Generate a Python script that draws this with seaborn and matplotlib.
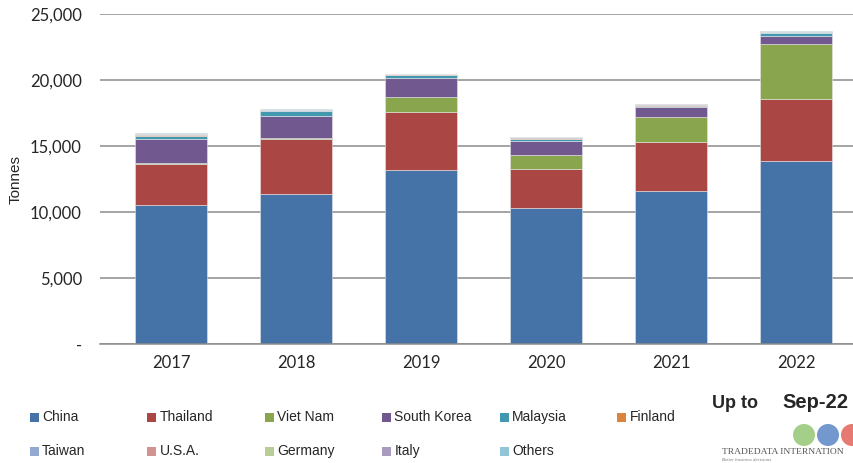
import matplotlib
matplotlib.use('Agg')
import matplotlib.pyplot as plt
import matplotlib.ticker as mticker
from matplotlib.patches import Rectangle, Ellipse
import numpy as np
import seaborn as sns

sns.set_theme(style='white')
plt.rcParams['font.family'] = ['Liberation Sans', 'DejaVu Sans']

# data (tonnes)
years = ['2017', '2018', '2019', '2020', '2021', '2022']
china = [10500, 11360, 13180, 10300, 11570, 13840]
thailand = [3100, 4170, 4370, 2930, 3760, 4740]
viet_nam = [80, 100, 1140, 1110, 1890, 4120]
south_korea = [1850, 1650, 1440, 1060, 710, 650]
malaysia = [250, 350, 230, 130, 120, 180]
finland = [20, 20, 20, 90, 20, 20]
taiwan = [60, 40, 30, 30, 40, 60]
usa = [30, 20, 20, 20, 20, 20]
germany = [20, 10, 10, 10, 10, 20]
italy = [20, 10, 10, 10, 10, 10]
others = [70, 40, 30, 10, 30, 40]

countries = ['China', 'Thailand', 'Viet Nam', 'South Korea', 'Malaysia', 'Finland',
             'Taiwan', 'U.S.A.', 'Germany', 'Italy', 'Others']
series = [china, thailand, viet_nam, south_korea, malaysia, finland,
          taiwan, usa, germany, italy, others]
colors = ['#4572A7', '#AA4643', '#89A54E', '#71588F', '#4198AF', '#DB843D',
          '#93A9CF', '#D19392', '#B9CD96', '#A99BBD', '#92C5D8']

fig = plt.figure(figsize=(8.54, 4.63), dpi=100)
ax = fig.add_axes([100 / 854, (463 - 344) / 463, 754 / 854, 330 / 463])

bottom = np.zeros(len(years))
for vals, col in zip(series, colors):
    sns.barplot(x=years, y=vals, bottom=bottom, color=col, width=0.576,
                saturation=1, edgecolor='#e6e6e6', linewidth=0.4, ax=ax)
    bottom += np.array(vals)

ax.set_xlim(-0.568, 5.464)
ax.set_ylim(0, 25000)
ax.set_yticks(range(0, 25001, 5000))
ax.yaxis.set_major_formatter(mticker.FuncFormatter(lambda v, p: '-' if v == 0 else f'{v:,.0f}'))
ax.grid(axis='y', color='#8c8c8c', linewidth=1.1)
ax.set_axisbelow(True)
for s in ['top', 'right', 'left']:
    ax.spines[s].set_visible(False)
ax.spines['bottom'].set_color('#8c8c8c')
ax.spines['bottom'].set_linewidth(1.1)
ax.tick_params(axis='y', labelsize=12, pad=13, length=0)
ax.tick_params(axis='x', labelsize=12, pad=8, length=0)
for lbl in ax.get_xticklabels() + ax.get_yticklabels():
    lbl.set_family(['Lato', 'DejaVu Sans'])
ax.set_ylabel('Tonnes', fontsize=11)
ax.yaxis.set_label_coords(-0.102, 0.5)
ax.set_xlabel('')

# legend laid out like the Excel one: 6 columns, 2 rows
for i, (name, col) in enumerate(zip(countries, colors)):
    r, c = divmod(i, 6)
    x0 = (30 + c * 117.5) / 854
    y0 = 1 - (417 + r * 34) / 463
    fig.add_artist(Rectangle((x0, y0 - 4.5 / 463), 9 / 854, 9 / 463,
                             transform=fig.transFigure, color=col, lw=0))
    fig.text(x0 + 12 / 854, y0, name, fontsize=10, va='center', ha='left')

fig.text(712 / 854, 1 - 404 / 463, 'Up to', fontsize=13, fontweight='bold', va='center')
fig.text(782 / 854, 1 - 402 / 463, 'Sep-22', fontsize=14.5, fontweight='bold', va='center')

# logo approximation
for cx, gc in [(804, '#8cc46a'), (828, '#4f7fc2'), (852, '#e0574f')]:
    fig.add_artist(Ellipse((cx / 854, 1 - 435 / 463), 22 / 854, 22 / 463,
                           transform=fig.transFigure, color=gc, alpha=0.8, lw=0))
fig.text(722 / 854, 1 - 452 / 463, 'TRADEDATA INTERNATION', fontsize=6.8,
         family='Liberation Serif', color='#555555', va='center')
fig.text(722 / 854, 1 - 460 / 463, 'Better business decisions', fontsize=3.5,
         family='Liberation Serif', style='italic', color='#777777', va='center')

fig.savefig('out.png', dpi=100)
